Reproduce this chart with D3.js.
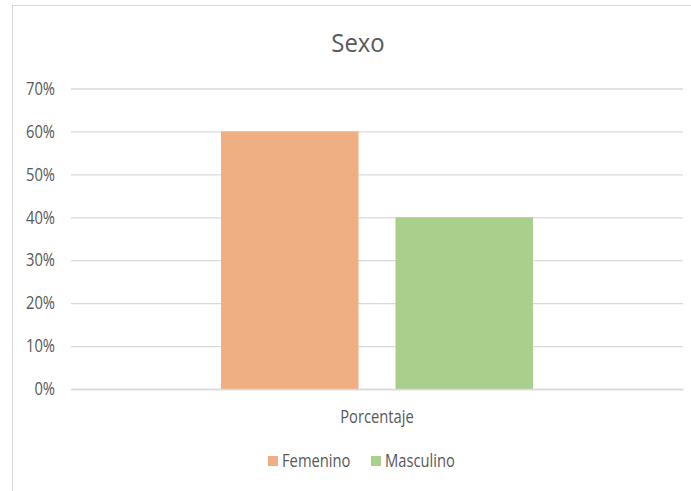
<!DOCTYPE html>
<html>
<head>
<meta charset="utf-8">
<script src="https://cdn.jsdelivr.net/npm/d3@7"></script>
<style>
  body { margin: 0; background: #fff; }
  text { font-family: "Open Sans", sans-serif; fill: #595959; }
</style>
</head>
<body>
<div id="chart"></div>
<script>
const categories = ["Porcentaje"]
const series = ["Femenino", "Masculino"]
const values = [0.60, 0.40]
const colors = ["#F0AF82", "#A8CF8C"]
const yTicks = [0, 0.1, 0.2, 0.3, 0.4, 0.5, 0.6, 0.7]

const width = 691,
      height = 491

const plotLeft = 71, plotRight = 683, plotTop = 88.5, plotBottom = 389
const squeeze = 0.82   // narrow the text like the original Calibri

const svg = d3.select("#chart")
              .append("svg")
              .attr("width", width)
              .attr("height", height)

// chart area frame (right/bottom run off the picture)
svg.append("rect")
   .attr("x", 12.5).attr("y", 5.5)
   .attr("width", 700).attr("height", 500)
   .attr("fill", "none")
   .attr("stroke", "#D9D9D9")

const yScale = d3.scaleLinear()
                 .domain([0, 0.7])
                 .range([plotBottom, plotTop])

const x0 = d3.scaleBand()
             .domain(categories)
             .range([plotLeft, plotRight])
             .paddingInner(0)
             .paddingOuter(0.4808)

const x1 = d3.scaleBand()
             .domain(series)
             .range([0, x0.bandwidth()])
             .paddingInner(0.212)

// gridlines + labels
const yAxis = d3.axisLeft(yScale)
                .tickValues(yTicks)
                .tickFormat(d3.format(".0%"))
                .tickSize(-(plotRight - plotLeft))
                .tickPadding(16)

const gy = svg.append("g")
              .attr("transform", "translate(" + plotLeft + ",0)")
              .call(yAxis)
gy.select(".domain").remove()
gy.selectAll(".tick line").attr("stroke", "#D9D9D9").attr("stroke-width", 1.3)
gy.selectAll(".tick text")
  .attr("font-size", 18)
  .attr("fill", "#595959")
  .attr("x", -16 / squeeze)
  .attr("transform", "scale(" + squeeze + ",1)")
  .style("font-family", '"Open Sans", sans-serif')

// bars
svg.selectAll("rect.bar")
   .data(values)
   .enter()
   .append("rect")
   .attr("class", "bar")
   .attr("x", (d, i) => x0(categories[0]) + x1(series[i]))
   .attr("y", d => yScale(d))
   .attr("width", x1.bandwidth())
   .attr("height", d => plotBottom - yScale(d))
   .attr("fill", (d, i) => colors[i])

// category axis
const xAxis = d3.axisBottom(x0).tickSize(0).tickPadding(21)
const gx = svg.append("g")
              .attr("transform", "translate(0," + plotBottom + ")")
              .call(xAxis)
gx.select(".domain").attr("stroke", "#D9D9D9").attr("stroke-width", 1.3)
gx.selectAll(".tick text")
  .attr("font-size", 18)
  .attr("fill", "#595959")
  .attr("transform", "scale(" + squeeze + ",1)")
  .style("font-family", '"Open Sans", sans-serif')

// title
svg.append("text")
   .attr("transform", "translate(358,52) scale(0.92,1)")
   .attr("text-anchor", "middle")
   .attr("font-size", 26)
   .text("Sexo")

// legend
const legendX = [268, 371]
const lg = svg.selectAll("g.legend")
              .data(series)
              .enter()
              .append("g")
              .attr("class", "legend")
              .attr("transform", (d, i) => "translate(" + legendX[i] + ",456)")
lg.append("rect")
  .attr("width", 10).attr("height", 10)
  .attr("fill", (d, i) => colors[i])
lg.append("text")
  .attr("transform", "translate(14,11) scale(" + squeeze + ",1)")
  .attr("font-size", 18)
  .text(d => d)
</script>
</body>
</html>
